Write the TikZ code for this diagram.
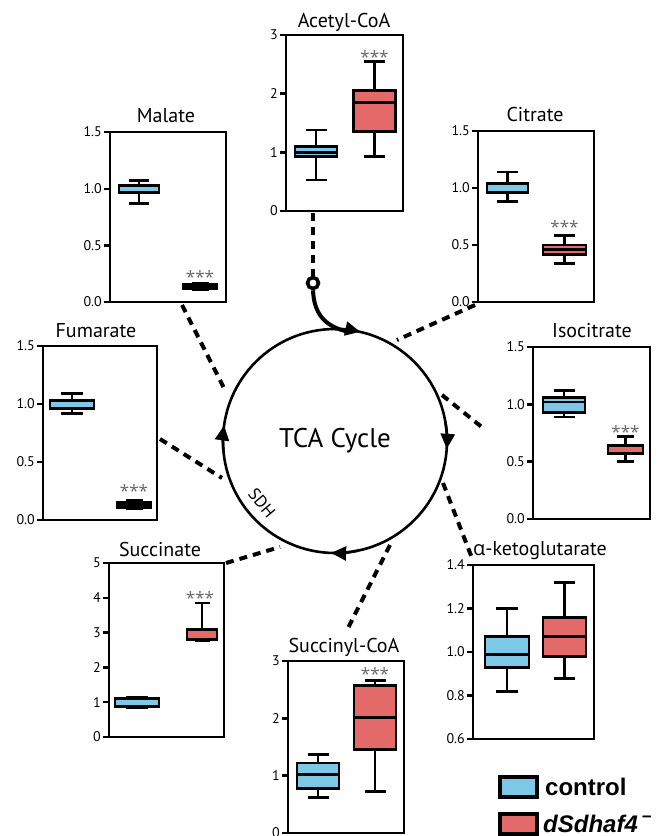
\documentclass[tikz,border=0pt]{standalone}
\usepackage{fontspec}
\setmainfont{PT Sans}
\newfontfamily\grkfont{Open Sans}
\newfontfamily\legfont{Liberation Sans}
\usetikzlibrary{arrows.meta,calc}
\definecolor{cblue}{HTML}{7DC8E6}
\definecolor{cred}{HTML}{E46A6A}
% boxplot with median: x, halfwidth, wlo, qlo, med, qhi, whi, colour
\newcommand{\bplot}[8]{%
  \draw[wsk] (#1,#3) -- (#1,#4) (#1,#6) -- (#1,#7)
    ({#1-#2/2},#3) -- ({#1+#2/2},#3) ({#1-#2/2},#7) -- ({#1+#2/2},#7);
  \draw[bxs,fill=#8] ({#1-#2},#4) rectangle ({#1+#2},#6);
  \draw[wsk] ({#1-#2},#5) -- ({#1+#2},#5);}
% boxplot without median line: x, halfwidth, wlo, qlo, qhi, whi, colour
\newcommand{\bplotn}[7]{%
  \draw[wsk] (#1,#3) -- (#1,#4) (#1,#5) -- (#1,#6)
    ({#1-#2/2},#3) -- ({#1+#2/2},#3) ({#1-#2/2},#6) -- ({#1+#2/2},#6);
  \draw[bxs,fill=#7] ({#1-#2},#4) rectangle ({#1+#2},#5);}
% frame: name, L, T, R, B
\newcommand{\frm}[5]{\node[frame,minimum width={#4-#2},minimum height={#5-#3}] (#1) at ({(#2+#4)/2},{(#3+#5)/2}) {};}
% ticks: prefix, L, list v/label
\newcommand{\tks}[3]{\foreach \v/\l [count=\i] in {#3} {\draw[tk] (#2,\v) -- ({#2-6},\v) node[tlab] (#1t\i) {\l};}}
\begin{document}
\begin{tikzpicture}[x=1pt,y=-1pt,
  frame/.style={draw,line width=2.6pt,inner sep=0pt,outer sep=0pt},
  wsk/.style={line width=2.8pt},
  bxs/.style={line width=2.8pt,line join=miter},
  tk/.style={line width=2.4pt},
  tlab/.style={anchor=east,inner sep=1pt,font=\fontsize{14}{16}\selectfont},
  ttl/.style={anchor=base,inner sep=0pt,font=\fontsize{20}{22}\selectfont},
  stars/.style={inner sep=0pt,text=black!60,font=\grkfont\fontsize{17}{18}\selectfont},
  conn/.style={line width=4pt,dash pattern=on 8pt off 6pt},
  cyc/.style={line width=2.6pt},
  tip/.style={-{Triangle[length=15pt,width=14pt]}}]
\useasboundingbox (0,0) rectangle (664,836);

% ---------- TCA cycle ----------
\node[circle,draw,line width=2.6pt,minimum size=224pt,inner sep=0pt] (cyc) at (335,441) {};
\node[anchor=base,font=\fontsize{27}{30}\selectfont] (tca) at (335,447) {TCA Cycle};
\node[rotate=-50,inner sep=0pt,font=\fontsize{17}{18}\selectfont] (sdh) at (262,503) {SDH};
\draw[cyc,tip] (335,441) ++(-90:112) arc[start angle=-90,end angle=-77,radius=112];
\draw[cyc,tip] (335,441) ++(-10:112) arc[start angle=-10,end angle=4,radius=112];
\draw[cyc,tip] (335,441) ++(78:112) arc[start angle=78,end angle=92,radius=112];
\draw[cyc,tip] (335,441) ++(175:112) arc[start angle=175,end angle=188,radius=112];
% acetyl-CoA entry
\node[circle,draw,fill=white,line width=3.6pt,minimum size=11pt,inner sep=0pt] (dot) at (313,283) {};
\coordinate (entry) at (347,331.5);
\draw[line width=4pt] (dot.south) .. controls (314,313) and (324,326) .. (entry);

% ---------- Acetyl-CoA ----------
\frm{acetyl}{286}{35}{403}{211}
\node[ttl] (acetylT) at (344,27) {Acetyl-CoA};
\begin{scope}[shift={(0,211)},y=58.67pt]
\tks{ac}{286}{0/0,1/1,2/2,3/3}
\bplot{316}{21}{0.53}{0.93}{1.0}{1.1}{1.38}{cblue}
\bplot{374.5}{21}{0.93}{1.35}{1.85}{2.05}{2.55}{cred}
\node[stars] (acS) at (374.5,2.62) {***};
\end{scope}

% ---------- Malate ----------
\frm{malate}{110}{132}{226}{302}
\node[ttl] (malateT) at (166,122) {Malate};
\begin{scope}[shift={(0,302)},y=113.3pt]
\tks{ma}{110}{0/0.0,0.5/0.5,1/1.0,1.5/1.5}
\bplotn{139}{20}{0.87}{0.97}{1.03}{1.07}{cblue}
\bplotn{200}{17}{0.11}{0.115}{0.155}{0.16}{black}
\node[stars] (maS) at (200,0.22) {***};
\end{scope}

% ---------- Citrate ----------
\frm{citrate}{478}{131}{594}{302}
\node[ttl] (citrateT) at (535,121) {Citrate};
\begin{scope}[shift={(0,302)},y=114pt]
\tks{ci}{478}{0/0.0,0.5/0.5,1/1.0,1.5/1.5}
\bplotn{507.5}{20.5}{0.88}{0.96}{1.04}{1.14}{cblue}
\bplot{564.5}{21.5}{0.34}{0.42}{0.46}{0.5}{0.58}{cred}
\node[stars] (ciS) at (564.5,0.66) {***};
\end{scope}

% ---------- Isocitrate ----------
\frm{isocitrate}{533}{347}{650}{519}
\node[ttl] (isocitrateT) at (592,337) {Isocitrate};
\begin{scope}[shift={(0,519)},y=114.7pt]
\tks{is}{533}{0/0.0,0.5/0.5,1/1.0,1.5/1.5}
\bplot{564}{21}{0.89}{0.93}{1.02}{1.06}{1.12}{cblue}
\bplotn{625.5}{17.5}{0.5}{0.57}{0.64}{0.72}{cred}
\node[stars] (isS) at (625.5,0.76) {***};
\end{scope}

% ---------- Fumarate ----------
\frm{fumarate}{43}{346}{157}{520}
\node[ttl] (fumarateT) at (96,337) {Fumarate};
\begin{scope}[shift={(0,520)},y=116pt]
\tks{fu}{43}{0/0.0,0.5/0.5,1/1.0,1.5/1.5}
\bplotn{72}{22}{0.92}{0.96}{1.03}{1.09}{cblue}
\bplotn{134}{17}{0.1}{0.11}{0.15}{0.17}{black}
\node[stars] (fuS) at (134,0.25) {***};
\end{scope}

% ---------- Succinate ----------
\frm{succinate}{109}{563}{224}{737}
\node[ttl] (succinateT) at (160,556) {Succinate};
\begin{scope}[shift={(0,737)},y=34.8pt]
\tks{su}{109}{0/0,1/1,2/2,3/3,4/4,5/5}
\bplotn{137}{22}{0.85}{0.88}{1.1}{1.15}{cblue}
\bplotn{202}{15}{2.78}{2.8}{3.1}{3.85}{cred}
\node[stars] (suS) at (200,3.98) {***};
\end{scope}

% ---------- Succinyl-CoA ----------
\frm{succinyl}{288}{661}{404}{833}
\node[ttl] (succinylT) at (344,652) {Succinyl-CoA};
\begin{scope}[shift={(0,833)},y=57.33pt]
\tks{sc}{288}{0/0,1/1,2/2,3/3}
\bplot{318}{21}{0.62}{0.77}{1.02}{1.22}{1.37}{cblue}
\bplot{375}{21}{0.72}{1.45}{2.02}{2.57}{2.66}{cred}
\node[stars] (scS) at (375,2.77) {***};
\end{scope}

% ---------- alpha-ketoglutarate ----------
\frm{akg}{473}{565}{594}{739}
\node[ttl] (akgT) at (540,555) {{\grkfont α}-ketoglutarate};
\begin{scope}[shift={(0,739)},y=217.5pt,shift={(0,-0.6)}]
\tks{ak}{473}{0.6/0.6,0.8/0.8,1.0/1.0,1.2/1.2,1.4/1.4}
\bplot{507}{22}{0.82}{0.93}{0.99}{1.07}{1.2}{cblue}
\bplot{564.5}{21.5}{0.88}{0.98}{1.07}{1.16}{1.32}{cred}
\end{scope}

% ---------- dashed connectors ----------
\coordinate (ac1) at (313,213); \coordinate (ac2) at (313,276);
\coordinate (ma1) at (182,305); \coordinate (ma2) at (225,390);
\coordinate (ci1) at (475,305); \coordinate (ci2) at (397,340);
\coordinate (is1) at (442,395); \coordinate (is2) at (483,428);
\coordinate (fu1) at (160,439); \coordinate (fu2) at (222,478);
\coordinate (su1) at (226,563); \coordinate (su2) at (280,547);
\coordinate (sc1) at (390,545); \coordinate (sc2) at (348,628);
\coordinate (ak1) at (443,483); \coordinate (ak2) at (472,558);
\draw[conn] (ac1) -- (ac2);
\draw[conn] (ma1) -- (ma2);
\draw[conn] (ci1) -- (ci2);
\draw[conn] (is1) -- (is2);
\draw[conn] (fu1) -- (fu2);
\draw[conn] (su1) -- (su2);
\draw[conn] (sc1) -- (sc2);
\draw[conn] (ak1) -- (ak2);

% ---------- legend ----------
\node[draw,fill=cblue,line width=4pt,minimum width=37pt,minimum height=20pt,inner sep=0pt] (legC) at (518.5,787) {};
\node[draw,fill=cred,line width=4pt,minimum width=37pt,minimum height=20pt,inner sep=0pt] (legM) at (518.5,823.5) {};
\node[anchor=base west,inner sep=0pt,font=\legfont\bfseries\fontsize{24}{26}\selectfont] (legCt) at (545,795) {control};
\node[anchor=base west,inner sep=0pt,font=\legfont\bfseries\fontsize{24}{26}\selectfont] (legMt) at (543,832) {\itshape dSdhaf4\,\textsuperscript{\upshape −}};
\end{tikzpicture}
\end{document}
